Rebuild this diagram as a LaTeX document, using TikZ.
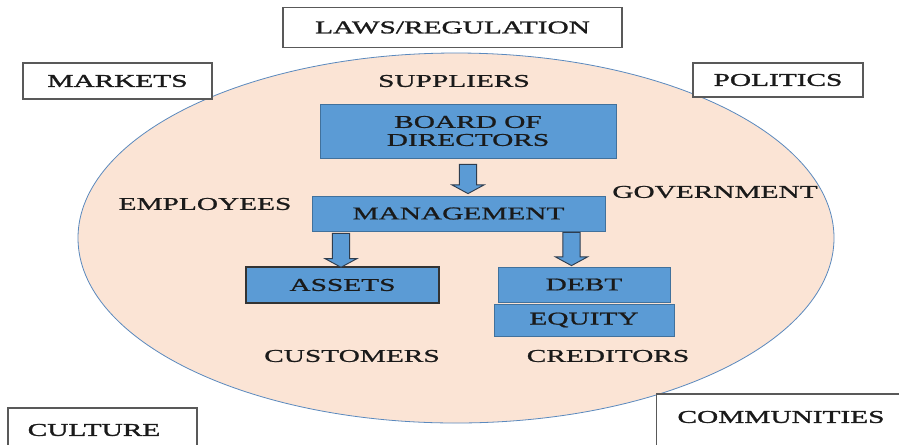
\documentclass[tikz,border=0pt]{standalone}
\usepackage{fontspec}
\setmainfont{Liberation Serif}[FakeStretch=1.63, FakeBold=1.0]
\newfontfamily\boxfont{Liberation Serif}[FakeStretch=1.63, FakeBold=1.6]
\usetikzlibrary{calc}
\definecolor{ellfill}{HTML}{FBE4D5}
\definecolor{elldraw}{HTML}{5A89BE}
\definecolor{boxblue}{HTML}{5B9BD5}
\definecolor{boxedge}{HTML}{41719C}
\definecolor{arredge}{HTML}{2E3D4F}
\definecolor{txt}{HTML}{1A1A1A}
\begin{document}
\begin{tikzpicture}[x=0.75pt,y=-0.75pt,
  every node/.style={font=\fontsize{13.5}{13.5}\selectfont, text=txt, inner sep=0pt},
  outerbox/.style={draw=black!65, line width=0.9pt, fill=white, rectangle, font=\fontsize{13.5}{13.5}\boxfont},
  bluebox/.style={draw=boxedge, line width=0.6pt, fill=boxblue, rectangle, align=center},
  lbl/.style={},
  boxlbl/.style={font=\fontsize{13.5}{13.5}\boxfont},
  barrow/.style={fill=boxblue, draw=arredge, line width=0.7pt, line join=miter,
    to path={let \p1=(\tikztostart), \p2=(\tikztotarget) in
      (\x1-6.5pt,\y1) -- (\x1+6.5pt,\y1) -- (\x1+6.5pt,\y2+6.5pt) -- (\x1+12pt,\y2+6.5pt)
      -- (\x1,\y2) -- (\x1-12pt,\y2+6.5pt) -- (\x1-6.5pt,\y2+6.5pt) -- cycle}}]
\useasboundingbox (0,0) rectangle (899,444);
\clip (0,0) rectangle (899,444);
\fill[white] (0,0) rectangle (899,444);

% ellipse
\draw[fill=ellfill, draw=elldraw, line width=0.6pt] (456,238) ellipse [x radius=378, y radius=185];

% outer boxes
\node[outerbox, minimum width=254.25pt, minimum height=30pt] (laws) at (452.5,27.5) {LAWS/REGULATION};
\node[outerbox, minimum width=141.75pt, minimum height=27pt] (markets) at (117.5,81) {MARKETS};
\node[outerbox, minimum width=127.5pt, minimum height=25.5pt] (politics) at (778,80) {POLITICS};
\node[outerbox, minimum width=141.75pt, minimum height=45pt] (culture) at (102.5,438) {};
\node[boxlbl] (culturet) at (94,430) {CULTURE};
\node[outerbox, minimum width=200pt, minimum height=60pt] (communities) at (790,434) {};
\node[boxlbl] (communitiest) at (781,417) {COMMUNITIES};

% free labels
\node[lbl] (suppliers) at (454,81) {SUPPLIERS};
\node[lbl] (employees) at (205,204) {EMPLOYEES};
\node[lbl] (government) at (715,192) {GOVERNMENT};
\node[lbl] (customers) at (352,356) {CUSTOMERS};
\node[lbl] (creditors) at (608,356) {CREDITORS};

% blue boxes
\node[bluebox, minimum width=222pt, minimum height=40.5pt] (bod) at (468,131) {BOARD OF\\DIRECTORS};
\node[bluebox, minimum width=219.75pt, minimum height=26.25pt] (mgmt) at (458.5,213.5) {MANAGEMENT};
\node[bluebox, draw=black!80, line width=1.1pt, minimum width=144.75pt, minimum height=27pt] (assets) at (342.5,285) {ASSETS};
\node[bluebox, minimum width=129pt, minimum height=26.25pt] (debt) at (584,284.5) {DEBT};
\node[bluebox, minimum width=135pt, minimum height=24pt] (equity) at (584,320) {EQUITY};

% block arrows
\draw[barrow] ($(bod.south)+(0,6)$) to ($(bod.south |- mgmt.north)+(0,-2)$);
\draw[barrow] ($(assets.north |- mgmt.south)+(-1.5,2)$) to ($(assets.north)+(-1.5,1)$);
\draw[barrow] ($(debt.north |- mgmt.south)+(-12.5,1)$) to ($(debt.north)+(-12.5,-1)$);
\end{tikzpicture}
\end{document}
